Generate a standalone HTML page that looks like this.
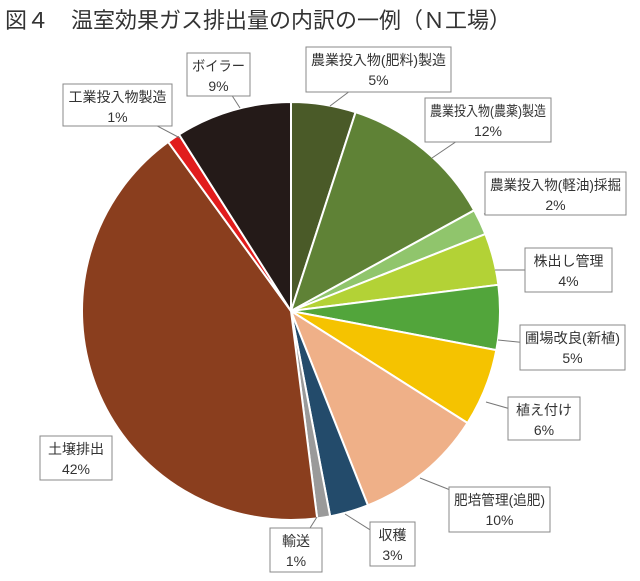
<!DOCTYPE html>
<html><head><meta charset="utf-8"><style>
body{margin:0;background:#fff;width:640px;height:576px;overflow:hidden}
svg text{font-family:"Liberation Sans","Noto Sans CJK JP",sans-serif;fill:#333}
</style></head><body>
<svg width="640" height="576">
<text x="5" y="28" font-size="22" fill="#222">図４　温室効果ガス排出量の内訳の一例（Ｎ工場）</text>
<g id="slices"></g><g id="labels"></g>
</svg>
<script>
const categories=["農業投入物(肥料)製造","農業投入物(農薬)製造","農業投入物(軽油)採掘","株出し管理","圃場改良(新植)","植え付け","肥培管理(追肥)","収穫","輸送","土壌排出","工業投入物製造","ボイラー"];
const values=[5,12,2,4,5,6,10,3,1,42,1,9];
const colors=["#4a5a28","#5f8236","#90c56c","#b3d236","#52a53b","#f5c300","#efb088","#234b6b","#9a9a9a","#8a3e1e","#e11d1d","#241a18"];
const boxes=[[306,47,145,45,330,106],[425,98,126,44,432,158],[485,172,141,43,484,214],[525,248,87,44,495,270],[520,325,105,45,498,340],[508,397,72,43,486,402],[449,487,101,45,420,478],[370,522,45,44,345,514],[270,528,52,44,317,517],[40,436,72,44,110,440],[63,84,109,42,180,138],[187,53,63,43,240,108]];
const cx=291,cy=311,r=209,NS="http://www.w3.org/2000/svg";
const total=values.reduce((a,b)=>a+b,0);
const sg=document.getElementById('slices'),lg=document.getElementById('labels');
function pt(a,rr){return [cx+rr*Math.sin(a),cy-rr*Math.cos(a)];}
let acc=0;
values.forEach((v,i)=>{
 const a0=acc/total*2*Math.PI;acc+=v;const a1=acc/total*2*Math.PI;
 const p0=pt(a0,r),p1=pt(a1,r);
 const p=document.createElementNS(NS,'path');
 p.setAttribute('d',`M${cx},${cy}L${p0[0]},${p0[1]}A${r},${r} 0 ${a1-a0>Math.PI?1:0} 1 ${p1[0]},${p1[1]}Z`);
 p.setAttribute('fill',colors[i]);p.setAttribute('stroke','#fff');p.setAttribute('stroke-width','2');
 
 
 sg.appendChild(p);
 const b=boxes[i];
 const l=document.createElementNS(NS,'line');
 l.setAttribute('x1',b[0]+b[2]/2);l.setAttribute('y1',b[1]+b[3]/2);l.setAttribute('x2',b[4]);l.setAttribute('y2',b[5]);
 l.setAttribute('stroke','#777');
 
 
 lg.appendChild(l);
 const rc=document.createElementNS(NS,'rect');
 rc.setAttribute('x',b[0]);rc.setAttribute('y',b[1]);rc.setAttribute('width',b[2]);rc.setAttribute('height',b[3]);
 rc.setAttribute('fill','#fff');rc.setAttribute('stroke','#888');
 
 
 lg.appendChild(rc);
 [[categories[i],18],[v+'%',38]].forEach((t,k)=>{
  const tx=document.createElementNS(NS,'text');
  tx.setAttribute('x',b[0]+b[2]/2);tx.setAttribute('y',b[1]+t[1]);tx.setAttribute('text-anchor','middle');
  tx.setAttribute('font-size','14');tx.textContent=t[0];
  if(!k){tx.setAttribute('textLength',Math.min(b[2]-10,t[0].length*14));tx.setAttribute('lengthAdjust','spacingAndGlyphs');}
  
  
  lg.appendChild(tx);
 });
});
</script>
</body></html>
